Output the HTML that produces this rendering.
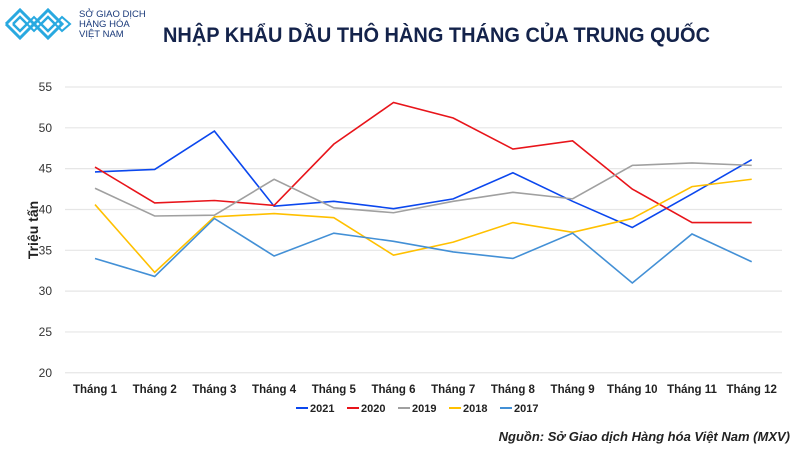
<!DOCTYPE html>
<html><head><meta charset="utf-8"><style>
body{margin:0;background:#fff;font-family:"Liberation Sans",sans-serif;}
#wrap{position:relative;width:800px;height:450px;overflow:hidden;background:#fff;}
</style></head><body>
<div id="wrap">
<svg width="800" height="450" id="svg">
  <g fill="none" stroke="#29a9e0">
    <polyline points="6,24 20,10 34,24 48,10 62,24 48,38 34,24 20,38 6,24" stroke-width="3"/>
    <polyline points="13,24 20,17 27,24 20,31 13,24" stroke-width="2.5"/>
    <polyline points="41,24 48,17 55,24 48,31 41,24" stroke-width="2.5"/>
    <polyline points="27,24 34,17 41,24 34,31 27,24" stroke-width="2"/>
    <polyline points="55,24 62,17 70,24 62,31 55,24" stroke-width="2"/>
  </g>
  <text x="79" y="17" font-size="9.5" fill="#1a3a7a">SỞ GIAO DỊCH</text>
  <text x="79" y="27" font-size="9.5" fill="#1a3a7a">HÀNG HÓA</text>
  <text x="79" y="37" font-size="9.5" fill="#1a3a7a">VIỆT NAM</text>
  <text x="163" y="42" textLength="547" lengthAdjust="spacingAndGlyphs" font-size="21" font-weight="bold" fill="#14234b">NHẬP KHẨU DẦU THÔ HÀNG THÁNG CỦA TRUNG QUỐC</text>
  <text transform="translate(38,230) rotate(-90)" text-anchor="middle" font-size="14" font-weight="bold" fill="#222">Triệu tấn</text>
  <g id="grid"></g><g id="yt"></g><g id="xt"></g><g id="lines"></g><g id="legend"></g>
  <text x="790" y="441" text-anchor="end" font-size="13" font-weight="bold" font-style="italic" fill="#222">Nguồn: Sở Giao dịch Hàng hóa Việt Nam (MXV)</text>
</svg>
</div>
<script>
const categories=["Tháng 1","Tháng 2","Tháng 3","Tháng 4","Tháng 5","Tháng 6","Tháng 7","Tháng 8","Tháng 9","Tháng 10","Tháng 11","Tháng 12"];
const yTicks=[20,25,30,35,40,45,50,55];
const seriesNames=["2021","2020","2019","2018","2017"];
const s2021=[44.6,44.9,49.6,40.4,41.0,40.1,41.3,44.5,41.0,37.8,41.9,46.1];
const s2020=[45.2,40.8,41.1,40.5,48.0,53.1,51.2,47.4,48.4,42.5,38.4,38.4];
const s2019=[42.6,39.2,39.3,43.7,40.2,39.6,41.0,42.1,41.3,45.4,45.7,45.4];
const s2018=[40.6,32.3,39.1,39.5,39.0,34.4,36.0,38.4,37.2,38.9,42.8,43.7];
const s2017=[34.0,31.8,38.9,34.3,37.1,36.1,34.8,34.0,37.1,31.0,37.0,33.6];
const colors=["#0b47ee","#e8141a","#a0a0a0","#ffc000","#4390d6"];
const NS="http://www.w3.org/2000/svg";
const x=i=>95+i*59.7;
const y=v=>87+(55-v)*8.165;
function mk(t,a,p){const e=document.createElementNS(NS,t);for(const k in a)e.setAttribute(k,a[k]);document.getElementById(p).appendChild(e);return e;}
yTicks.forEach(v=>{
  const g=mk("line",{x1:65,x2:782,y1:y(v),y2:y(v),stroke:"#e6e6e6","stroke-width":1.2},"grid");
  
  
  const t=mk("text",{x:52,y:y(v)+4,"text-anchor":"end","font-size":12,fill:"#333"},"yt");
  t.textContent=v;
  
  
});
categories.forEach((c,i)=>{
  const t=mk("text",{x:x(i),y:393,"text-anchor":"middle","font-size":11.5,"font-weight":"bold",fill:"#222"},"xt");
  t.textContent=c;
  
  
});
[s2021,s2020,s2019,s2018,s2017].forEach((s,k)=>{
  const l=mk("polyline",{points:s.map((v,i)=>x(i)+","+y(v)).join(" "),fill:"none",stroke:colors[k],"stroke-width":1.6},"lines");
  
  
  const lx=296+k*51;
  const m=mk("line",{x1:lx,x2:lx+12,y1:408,y2:408,stroke:colors[k],"stroke-width":2},"legend");
  
  
  const t=mk("text",{x:lx+14,y:412,"font-size":11,"font-weight":"bold",fill:"#222"},"legend");
  t.textContent=seriesNames[k];
  
  
});
</script>
</body></html>
